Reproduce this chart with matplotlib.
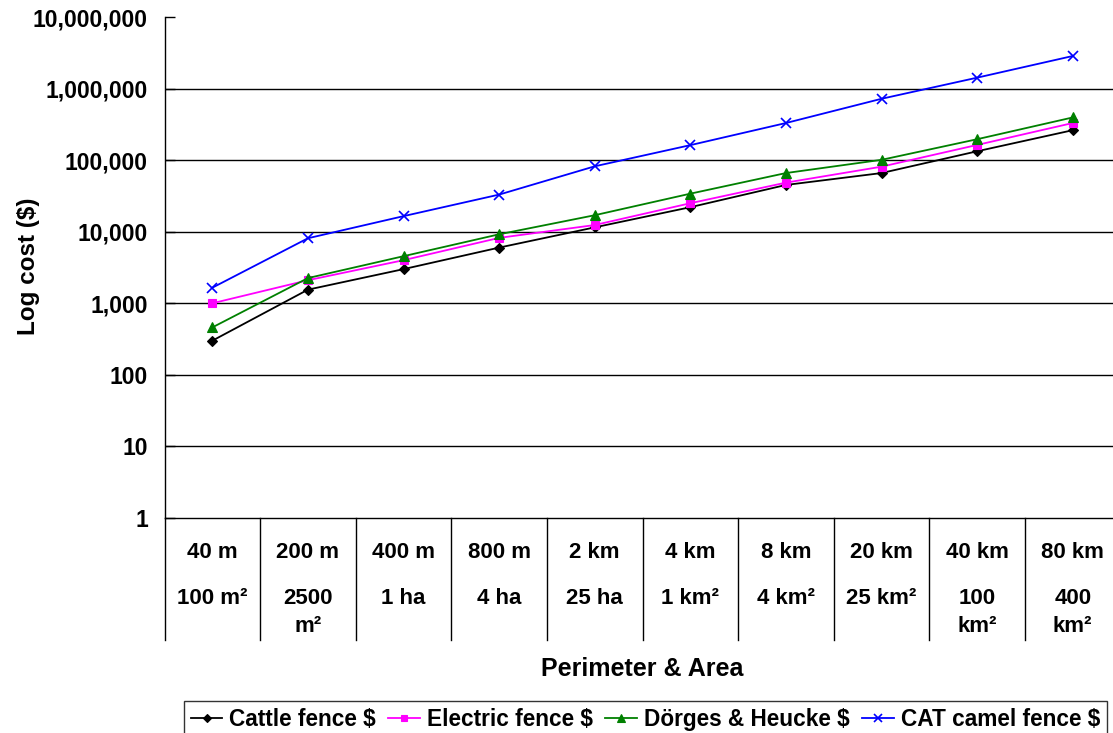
import matplotlib
matplotlib.use("Agg")
import matplotlib.pyplot as plt
import matplotlib.transforms as mtransforms
import numpy as np

plt.rcParams['font.family'] = ['Liberation Sans', 'DejaVu Sans']
plt.rcParams['font.weight'] = 'bold'

perimeters = ["40 m", "200 m", "400 m", "800 m", "2 km", "4 km", "8 km", "20 km", "40 km", "80 km"]
areas = ["100 m²", "2500\nm²", "1 ha", "4 ha", "25 ha", "1 km²", "4 km²", "25 km²", "100\nkm²", "400\nkm²"]

cattle = [300, 1550, 3000, 6000, 11500, 22000, 45000, 66000, 133000, 262000]
electric = [1000, 2100, 4000, 8200, 12400, 25000, 48500, 81000, 163000, 330000]
dorges = [460, 2250, 4550, 9200, 17000, 34000, 66000, 101000, 196000, 395000]
camel = [1650, 8100, 16500, 33000, 82000, 162000, 330000, 720000, 1420000, 2850000]

series_names = ["Cattle fence $", "Electric fence $", "Dörges & Heucke $", "CAT camel fence $"]
yticks = [1, 10, 100, 1000, 10000, 100000, 1000000, 10000000]

W, H = 1113, 733
fig = plt.figure(figsize=(W / 100, H / 100), dpi=100)
left_px, right_px, top_px, bot_px = 164.5, 1120.5, 17, 518
ax = fig.add_axes([left_px / W, 1 - bot_px / H, (right_px - left_px) / W, (bot_px - top_px) / H])

ax.set_yscale('log')
ax.set_ylim(1, 1e7)
ax.set_xlim(0, len(perimeters))

for v in yticks[1:-1]:
    ax.axhline(v, color='black', lw=1.0, zorder=1)

x = np.arange(len(perimeters)) + 0.5
styles = [
    (cattle, 'black', 'D', 5),
    (electric, '#FF00FF', 's', 6),
    (dorges, '#008000', '^', 7),
    (camel, '#0000FF', 'x', 7),
]
for (vals, col, mk, ms), name in zip(styles, series_names):
    ax.plot(x, vals, color=col, marker=mk, markersize=ms, lw=1.3, label=name,
            markeredgewidth=1.2 if mk == 'x' else 0.8, zorder=3)

ax.set_yticks(yticks)
ax.set_yticklabels([f"{v:,}" for v in yticks])
ax.yaxis.set_minor_locator(matplotlib.ticker.NullLocator())
ax.tick_params(axis='y', direction='in', length=7, width=1, labelsize=16.5, pad=12)
ax.set_xticks([])
for s in ['top', 'right']:
    ax.spines[s].set_visible(False)
for s in ['left', 'bottom']:
    ax.spines[s].set_linewidth(1.0)
    ax.spines[s].set_color('black')

# category table below the axis
axh = bot_px - top_px
def yfrac(px):
    return (bot_px - px) / axh

trans = mtransforms.blended_transform_factory(ax.transData, ax.transAxes)
for b in range(len(perimeters)):
    ax.plot([b, b], [0, yfrac(640)], color='black', lw=1.0, transform=trans, clip_on=False)

for i, (p, a) in enumerate(zip(perimeters, areas)):
    ax.text(i + 0.5, yfrac(553), p, transform=trans, ha='center', va='center', fontsize=16)
    for j, line in enumerate(a.split('\n')):
        ax.text(i + 0.5, yfrac(598 + 28 * j), line, transform=trans, ha='center', va='center', fontsize=16)

fig.text(28 / W, 1 - 266 / H, "Log cost ($)", rotation=90, ha='center', va='center', fontsize=17.5)
fig.text(642 / W, 1 - 669 / H, "Perimeter & Area", ha='center', va='center', fontsize=18)

leg = fig.legend(loc='upper left', bbox_to_anchor=(184 / W, 1 - 701 / H), ncol=4,
                 fontsize=16.3, frameon=True, fancybox=False, edgecolor='black',
                 handlelength=1.4, handletextpad=0.3, columnspacing=0.55, borderpad=0.3,
                 borderaxespad=0, markerscale=0.8)
leg.get_frame().set_linewidth(1.0)

fig.savefig("out.png", dpi=100)
